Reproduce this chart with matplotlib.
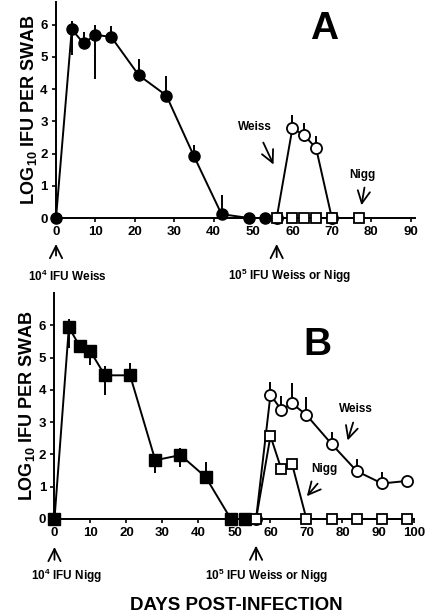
import numpy as np
import matplotlib
matplotlib.use('Agg')
import matplotlib.pyplot as plt

plt.rcParams['font.family'] = 'Liberation Sans'
plt.rcParams['font.weight'] = 'bold'
plt.rcParams['mathtext.fontset'] = 'custom'
plt.rcParams['mathtext.rm'] = 'Liberation Sans:bold'
plt.rcParams['mathtext.bf'] = 'Liberation Sans:bold'
plt.rcParams['mathtext.default'] = 'rm'

# Painel A - infecção primária Weiss (círculos cheios)
dias_a = [0, 4, 7, 10, 14, 21, 28, 35, 42, 49, 53]
log_a = [0, 5.85, 5.42, 5.68, 5.62, 4.43, 3.8, 1.92, 0.12, 0, 0]
erro_inf_a = [0, 0.8, 0, 1.38, 0, 0, 0, 0, 0, 0, 0]
erro_sup_a = [0, 0.25, 0.36, 0.3, 0.33, 0.49, 0.62, 0.36, 0.6, 0, 0]

# Painel A - reinfecção Weiss (círculos abertos) e Nigg (quadrados abertos)
dias_a_weiss = [56, 60, 63, 66, 70]
log_a_weiss = [0, 2.79, 2.56, 2.17, 0]
erro_sup_a_weiss = [0, 0.42, 0.4, 0.38, 0]
dias_a_nigg = [56, 60, 63, 66, 70, 77]
log_a_nigg = [0, 0, 0, 0, 0, 0]

# Painel B - infecção primária Nigg (quadrados cheios)
dias_b = [0, 4, 7, 10, 14, 21, 28, 35, 42, 49, 53]
log_b = [0, 5.94, 5.35, 5.19, 4.45, 4.45, 1.82, 1.98, 1.3, 0, 0]
erro_inf_b = [0, 0.64, 0, 0.41, 0.6, 0, 0.4, 0.36, 0, 0, 0]
erro_sup_b = [0, 0.26, 0.12, 0.2, 0.28, 0.38, 0.15, 0.22, 0.48, 0, 0]

# Painel B - reinfecção Weiss (círculos abertos) e Nigg (quadrados abertos)
dias_b_re = [56, 60, 63, 66, 70, 77, 84, 91, 98]
log_b_weiss = [0, 3.85, 3.38, 3.58, 3.22, 2.32, 1.48, 1.1, 1.18]
erro_sup_b_weiss = [0, 0.38, 0.42, 0.62, 0.55, 0.36, 0.37, 0.37, 0]
log_b_nigg = [0, 2.57, 1.55, 1.7, 0, 0, 0, 0, 0]

fig = plt.figure(figsize=(4.25, 6.15), dpi=100)
ax_a = fig.add_axes([0.1318, 0.6455, 0.8437, 0.3512])
ax_b = fig.add_axes([0.1282, 0.1561, 0.847, 0.3675])

lw = 1.4
kw_err = dict(ecolor='black', elinewidth=1.4, capsize=0, clip_on=False)

def estilo(ax, xmax, ticks, ytop):
    ax.set_xlim(0, xmax)
    ax.set_ylim(0, ytop)
    ax.set_xticks(ticks)
    ax.set_yticks(range(7))
    for s in ['top', 'right']:
        ax.spines[s].set_visible(False)
    for s in ['left', 'bottom']:
        ax.spines[s].set_linewidth(1.4)
    ax.tick_params(axis='both', direction='out', length=3, width=1.2, labelsize=9.5, pad=3)
    for lab in ax.get_xticklabels() + ax.get_yticklabels():
        lab.set_fontweight('bold')
    ax.set_ylabel('LOG$_{10}$ IFU PER SWAB', fontsize=13, fontweight='bold', labelpad=1)

# ---- Painel A ----
ax_a.errorbar(dias_a, log_a, yerr=[erro_inf_a, erro_sup_a], fmt='-o', color='black',
              lw=lw, ms=8, mfc='black', mec='black', zorder=3, **kw_err)
ax_a.errorbar(dias_a_weiss, log_a_weiss, yerr=[np.zeros(5), erro_sup_a_weiss], fmt='-o', color='black',
              lw=lw, ms=8, mfc='white', mec='black', mew=1.3, zorder=3, **kw_err)
ax_a.plot(dias_a_nigg, log_a_nigg, '-s', color='black', lw=lw, ms=7, mfc='white',
          mec='black', mew=1.3, zorder=4, clip_on=False)
estilo(ax_a, 91, range(0, 91, 10), 6.7)
ax_a.text(68, 5.85, 'A', fontsize=28, fontweight='bold', ha='center', va='center')

seta = dict(arrowstyle='->', lw=1.3, color='black', mutation_scale=22)
ax_a.text(50.5, 2.82, 'Weiss', fontsize=8.5, fontweight='bold', ha='center', va='center')
ax_a.annotate('', xy=(55.5, 1.58), xytext=(52.3, 2.42), arrowprops=seta)
ax_a.text(77.8, 1.34, 'Nigg', fontsize=8.5, fontweight='bold', ha='center', va='center')
ax_a.annotate('', xy=(77.4, 0.31), xytext=(78.4, 1.03), arrowprops=seta)

ax_a.annotate('', xy=(0, -0.72), xytext=(0, -1.25), arrowprops=seta, annotation_clip=False)
ax_a.annotate('', xy=(56, -0.72), xytext=(56, -1.3), arrowprops=seta, annotation_clip=False)
ax_a.text(2.8, -1.8, '10$^4$ IFU Weiss', fontsize=8.5, fontweight='bold', ha='center', va='center')
ax_a.text(59.4, -1.8, '10$^5$ IFU Weiss or Nigg', fontsize=8.5, fontweight='bold', ha='center', va='center')

# ---- Painel B ----
ax_b.errorbar(dias_b, log_b, yerr=[erro_inf_b, erro_sup_b], fmt='-s', color='black',
              lw=lw, ms=8, mfc='black', mec='black', zorder=3, **kw_err)
ax_b.errorbar(dias_b_re, log_b_weiss, yerr=[np.zeros(9), erro_sup_b_weiss], fmt='-o', color='black',
              lw=lw, ms=8, mfc='white', mec='black', mew=1.3, zorder=3, **kw_err)
ax_b.plot(dias_b_re, log_b_nigg, '-s', color='black', lw=lw, ms=7, mfc='white',
          mec='black', mew=1.3, zorder=4, clip_on=False)
estilo(ax_b, 100, range(0, 101, 10), 7.0)
ax_b.text(73, 5.4, 'B', fontsize=28, fontweight='bold', ha='center', va='center')

ax_b.text(83.8, 3.42, 'Weiss', fontsize=8.5, fontweight='bold', ha='center', va='center')
ax_b.annotate('', xy=(81.2, 2.35), xytext=(83.2, 3.07), arrowprops=seta)
ax_b.text(75.1, 1.54, 'Nigg', fontsize=8.5, fontweight='bold', ha='center', va='center')
ax_b.annotate('', xy=(69.6, 0.64), xytext=(73.6, 1.16), arrowprops=seta)

ax_b.annotate('', xy=(0, -0.78), xytext=(0, -1.35), arrowprops=seta, annotation_clip=False)
ax_b.annotate('', xy=(56, -0.74), xytext=(56, -1.35), arrowprops=seta, annotation_clip=False)
ax_b.text(3.2, -1.77, '10$^4$ IFU Nigg', fontsize=8.5, fontweight='bold', ha='center', va='center')
ax_b.text(59, -1.77, '10$^5$ IFU Weiss or Nigg', fontsize=8.5, fontweight='bold', ha='center', va='center')

fig.text(0.555, 0.015, 'DAYS POST-INFECTION', fontsize=13.5, fontweight='bold', ha='center', va='center')

fig.savefig('out.png', dpi=100)
